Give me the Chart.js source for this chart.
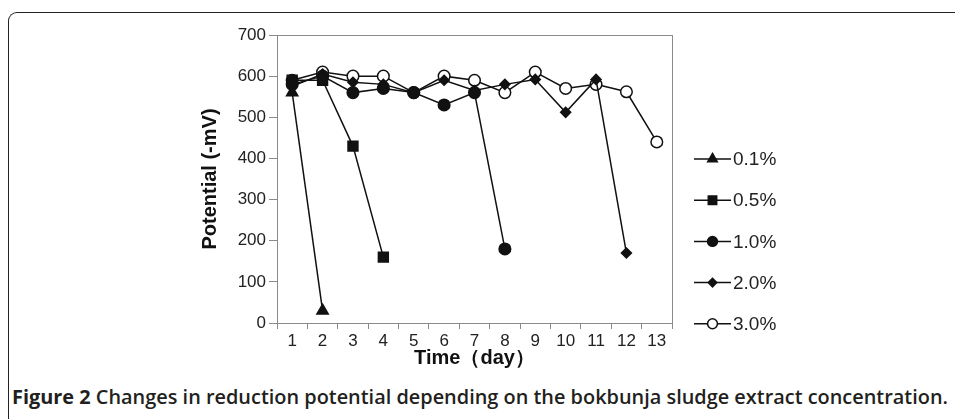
<!DOCTYPE html>
<html>
<head>
<meta charset="utf-8">
<script src="https://cdn.jsdelivr.net/npm/chart.js@4/dist/chart.umd.min.js"></script>
<style>
  html, body { margin: 0; padding: 0; background: #fff; }
  #wrap { position: relative; width: 955px; height: 419px; overflow: hidden; }
  #frame {
    position: absolute; left: 8px; top: 12px; width: 980px; height: 440px;
    border-left: 1.5px solid #222; border-top: 1.5px solid #222;
    border-top-left-radius: 9px; box-sizing: border-box;
  }
  #chart { position: absolute; left: 0; top: 0; }
  #caption {
    position: absolute; left: 12px; top: 384px; white-space: nowrap;
    font-family: "Open Sans", sans-serif; font-size: 19px; font-weight: 600;
    color: #231f20; transform-origin: 0 0;
  }
  #caption b { font-weight: 700; }
</style>
</head>
<body>
<div id="wrap">
  <div id="frame"></div>
  <canvas id="chart" width="955" height="380"></canvas>
  <div id="caption"><b>Figure 2</b> Changes in reduction potential depending on the bokbunja sludge extract concentration.</div>
</div>
<script>
const days = ['1', '2', '3', '4', '5', '6', '7', '8', '9', '10', '11', '12', '13']
const labels = ['0.1%', '0.5%', '1.0%', '2.0%', '3.0%']

const c01 = [560, 30]
const c05 = [590, 590, 430, 160]
const c10 = [580, 600, 560, 570, 560, 530, 560, 180]
const c20 = [575, 605, 585, 580, 560, 590, 565, 580, 592, 512, 592, 170]
const c30 = [590, 610, 600, 600, 560, 600, 590, 560, 610, 570, 580, 562, 440]

const yTicks = [0, 100, 200, 300, 400, 500, 600, 700]

const ink = '#111'
const font = '"Liberation Sans", Arial, sans-serif'

const makeSet = (label, data, style, radius, fill) => ({
  label,
  data,
  borderColor: ink,
  borderWidth: 1.5,
  pointStyle: style,
  pointRadius: radius,
  pointHoverRadius: radius,
  pointBackgroundColor: fill,
  pointBorderColor: ink,
  pointBorderWidth: 1.5,
  tension: 0,
  spanGaps: false,
})

// plot frame + custom legend (line with marker)
const framePlugin = {
  id: 'framePlugin',
  afterDatasetsDraw(chart) {
    const { ctx, chartArea: a } = chart
    ctx.save()
    ctx.strokeStyle = '#8a8a8a'
    ctx.lineWidth = 1
    ctx.strokeRect(a.left + 0.5, a.top + 0.5, a.right - a.left, a.bottom - a.top)
    ctx.restore()
  },
  afterDraw(chart) {
    const { ctx, chartArea: a } = chart
    const x0 = a.right + 22
    const x1 = x0 + 37
    chart.data.datasets.forEach((ds, i) => {
      const y = 159 + i * 41.2
      ctx.save()
      ctx.strokeStyle = ink
      ctx.lineWidth = 1.5
      ctx.beginPath()
      ctx.moveTo(x0, y)
      ctx.lineTo(x1, y)
      ctx.stroke()
      ctx.fillStyle = ds.pointBackgroundColor
      ctx.strokeStyle = ink
      ctx.lineWidth = 1.5
      Chart.helpers.drawPoint(ctx, {
        pointStyle: ds.pointStyle,
        radius: ds.pointRadius * 0.85,
        borderWidth: 1.5,
        rotation: 0,
      }, (x0 + x1) / 2, y)
      ctx.fillStyle = '#222'
      ctx.font = '19px ' + font
      ctx.textBaseline = 'middle'
      ctx.fillText(ds.label, x1 + 2, y + 1)
      ctx.restore()
    })
  },
}

new Chart(document.getElementById('chart'), {
  type: 'line',
  data: {
    labels: days,
    datasets: [
      makeSet(labels[0], c01, 'triangle', 6.5, ink),
      makeSet(labels[1], c05, 'rect', 7, ink),
      makeSet(labels[2], c10, 'circle', 5.8, ink),
      makeSet(labels[3], c20, 'rectRot', 5, ink),
      makeSet(labels[4], c30, 'circle', 5.8, '#fff'),
    ],
  },
  options: {
    responsive: false,
    animation: false,
    events: [],
    layout: {
      padding: { top: 35, left: 190, right: 283, bottom: 7 },
    },
    plugins: {
      legend: { display: false },
      tooltip: { enabled: false },
    },
    scales: {
      x: {
        type: 'category',
        offset: true,
        afterFit: scale => { scale.height = 50 },
        grid: {
          offset: true,
          drawOnChartArea: false,
          drawTicks: true,
          tickLength: 6,
          color: '#8a8a8a',
        },
        border: { color: '#8a8a8a' },
        ticks: {
          color: '#222',
          padding: 2,
          maxRotation: 0,
          autoSkip: false,
          font: { family: font, size: 17 },
        },
        title: {
          display: true,
          text: 'Time（day）',
          color: '#111',
          padding: { top: 0, bottom: 3 },
          font: { family: font, size: 20, weight: 'bold' },
        },
      },
      y: {
        min: 0,
        max: 700,
        afterFit: scale => { scale.width = 87 },
        afterBuildTicks: scale => { scale.ticks = yTicks.map(v => ({ value: v })) },
        grid: {
          drawOnChartArea: false,
          drawTicks: true,
          tickLength: 8,
          color: '#8a8a8a',
        },
        border: { color: '#8a8a8a' },
        ticks: {
          color: '#222',
          padding: 3,
          font: { family: font, size: 17 },
        },
        title: {
          display: true,
          text: 'Potential (-mV)',
          color: '#111',
          padding: { top: 8, bottom: 4 },
          font: { family: font, size: 20, weight: 'bold' },
        },
      },
    },
  },
  plugins: [framePlugin],
})

// fit the caption to the reference width
const cap = document.getElementById('caption')
const w = cap.getBoundingClientRect().width
cap.style.transform = 'scaleX(' + (936 / w) + ')'
</script>
</body>
</html>
